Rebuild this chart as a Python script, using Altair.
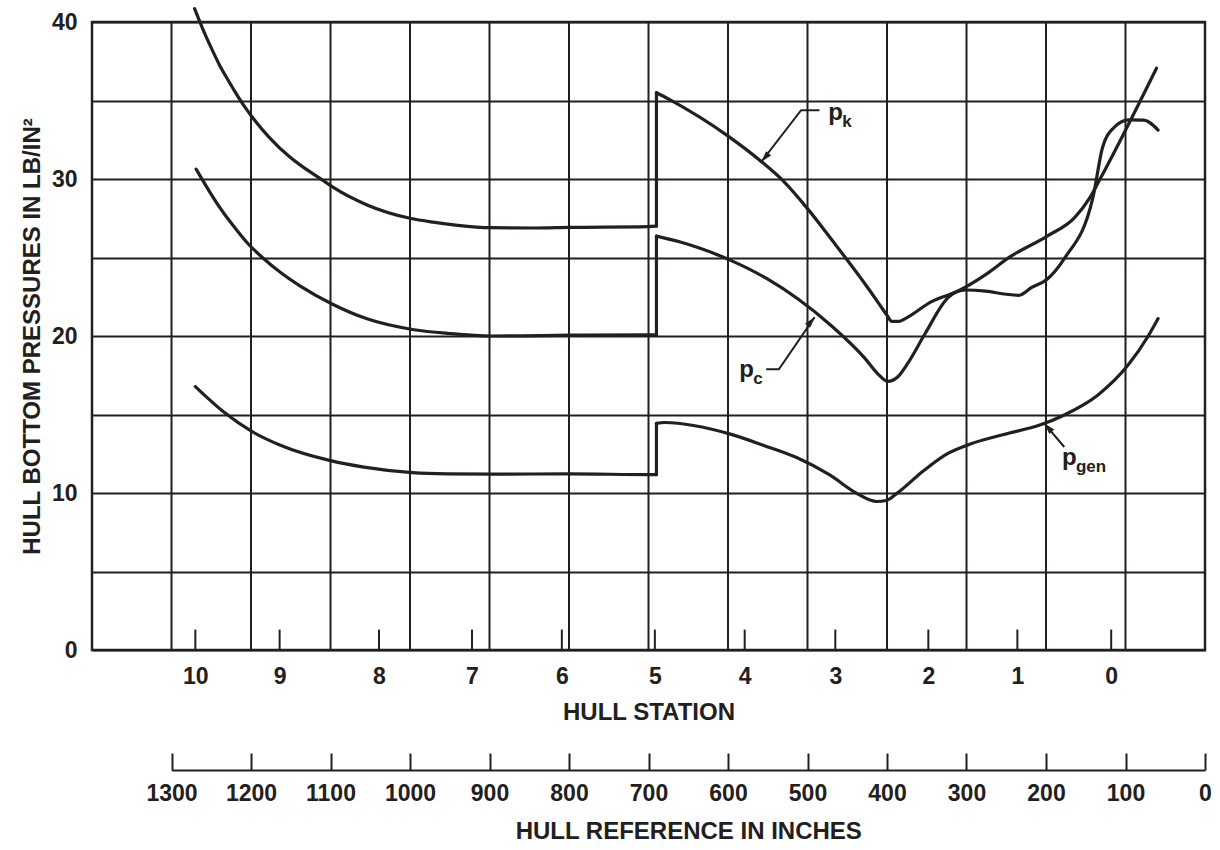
import json
import altair as alt
import pandas as pd

# ---------------- data (x = hull reference in inches, y = pressure lb/in^2) ----------------
pk_left_in = [1271, 1261, 1250, 1240, 1230, 1220, 1210, 1200, 1178, 1150, 1137, 1112, 1096, 1054, 1000, 971, 940, 899, 845, 800, 701, 690]
pk_left_p = [40.85, 39.6, 38.35, 37.3, 36.4, 35.55, 34.75, 34.05, 32.7, 31.35, 30.85, 30.0, 29.45, 28.35, 27.5, 27.25, 27.05, 26.9, 26.88, 26.92, 26.97, 27.0]
pk_right_in = [690, 675, 599, 559, 530, 499, 475, 451, 426, 410, 400, 394, 385, 377, 344, 310, 275, 246, 199, 164, 145, 132, 61]
pk_right_p = [35.5, 35.1, 32.7, 31.15, 29.85, 28.05, 26.5, 24.9, 23.2, 22.05, 21.32, 20.93, 20.93, 21.11, 22.19, 22.88, 23.94, 25.02, 26.35, 27.54, 28.8, 30.0, 37.06]

pc_left_in = [1269, 1242, 1222, 1204, 1185, 1164, 1139, 1098, 1055, 995, 951, 897, 798, 696, 690]
pc_left_p = [30.63, 28.39, 27.0, 25.89, 24.97, 24.09, 23.21, 22.04, 21.11, 20.4, 20.16, 20.0, 20.05, 20.08, 20.08]
pc_right_in = [690, 661, 636, 598, 552, 511, 470, 428, 411, 399, 386, 374, 352, 322, 301, 276, 250, 234, 218, 199, 177, 141, 129, 115, 96, 77, 59]
pc_right_p = [26.36, 26.0, 25.6, 24.85, 23.68, 22.32, 20.65, 18.59, 17.56, 17.11, 17.42, 18.25, 20.16, 22.5, 22.93, 22.86, 22.66, 22.59, 23.09, 23.6, 24.93, 28.81, 31.99, 33.25, 33.76, 33.75, 33.12]

pgen_left_in = [1270, 1233, 1200, 1163, 1100, 1058, 997, 953, 897, 799, 698, 690]
pgen_left_p = [16.78, 15.11, 13.95, 13.04, 12.06, 11.65, 11.3, 11.22, 11.2, 11.22, 11.17, 11.17]
pgen_right_in = [690, 680, 597, 555, 513, 472, 438, 413, 401, 388, 354, 325, 296, 253, 207, 177, 135, 97, 71, 59]
pgen_right_p = [14.43, 14.49, 13.75, 13.03, 12.24, 11.15, 9.98, 9.46, 9.52, 9.96, 11.42, 12.48, 13.11, 13.73, 14.34, 14.97, 16.23, 18.13, 20.03, 21.11]

# hull stations (position in inches) and their labels
station_in = [1270, 1164, 1039, 922, 809, 692, 579, 465, 348, 236, 118]
station_lbl = ["10", "9", "8", "7", "6", "5", "4", "3", "2", "1", "0"]

# hull reference axis ticks, grid
inch_ticks = [1300, 1200, 1100, 1000, 900, 800, 700, 600, 500, 400, 300, 200, 100, 0]
grid_in = [1300, 1200, 1100, 1000, 900, 800, 700, 600, 500, 400, 300, 200, 100]
y_ticks = [0, 5, 10, 15, 20, 25, 30, 35, 40]

# curve labels with leader lines
lbl_main = ["p", "p", "p"]
lbl_sub = ["k", "c", "gen"]
lbl_in = [474, 586, 180]
lbl_p = [33.73, 17.37, 11.78]
leader_pk_in = [485, 508, 558]
leader_pk_p = [34.38, 34.38, 31.1]
leader_pc_in = [552, 536, 491]
leader_pc_p = [17.88, 17.88, 21.2]
leader_pgen_in = [177, 202]
leader_pgen_p = [12.93, 14.42]
arrow_angle = [221, 40, 318]

# ---------------- build tables ----------------
def seg(name, xs, ys):
    return pd.DataFrame({"inches": xs, "p": ys, "seg": name, "idx": list(range(len(xs)))})

curves = pd.concat([
    seg("pk_a", pk_left_in, pk_left_p),
    seg("pk_j", [pk_left_in[-1], pk_right_in[0]], [pk_left_p[-1], pk_right_p[0]]),
    seg("pk_b", pk_right_in, pk_right_p),
    seg("pc_a", pc_left_in, pc_left_p),
    seg("pc_j", [pc_left_in[-1], pc_right_in[0]], [pc_left_p[-1], pc_right_p[0]]),
    seg("pc_b", pc_right_in, pc_right_p),
    seg("pg_a", pgen_left_in, pgen_left_p),
    seg("pg_j", [pgen_left_in[-1], pgen_right_in[0]], [pgen_left_p[-1], pgen_right_p[0]]),
    seg("pg_b", pgen_right_in, pgen_right_p),
], ignore_index=True)

leaders = pd.concat([
    seg("pk", leader_pk_in, leader_pk_p),
    seg("pc", leader_pc_in, leader_pc_p),
    seg("pgen", leader_pgen_in, leader_pgen_p),
], ignore_index=True)

arrows = pd.DataFrame({
    "inches": [leader_pk_in[-1], leader_pc_in[-1], leader_pgen_in[-1]],
    "p": [leader_pk_p[-1], leader_pc_p[-1], leader_pgen_p[-1]],
    "ang": arrow_angle,
})
labels = pd.DataFrame({"inches": lbl_in, "p": lbl_p, "main": lbl_main, "sub": lbl_sub})
grid_df = pd.DataFrame({"inches": grid_in, "p": [0] * len(grid_in), "p2": [40] * len(grid_in)})
stat_df = pd.DataFrame({"inches": station_in, "p": [0] * len(station_in), "p2": [1.3] * len(station_in)})

# ---------------- styling ----------------
W, H = 1113, 628
INK = "#23201c"
FONT = "Liberation Sans"
LBL = 23
TTL = 24

label_expr = "{}[indexof({}, datum.value)]".format(json.dumps(station_lbl), json.dumps(station_in))

x_scale = alt.Scale(domain=[1400, 0], nice=False, zero=False)
y_scale = alt.Scale(domain=[0, 40], nice=False)

x_axis = alt.Axis(
    orient="bottom", values=station_in, labelExpr=label_expr, grid=False, ticks=False, tickSize=0,
    domain=False, labelFont=FONT, labelFontSize=LBL, labelFontWeight="bold", labelColor=INK,
    labelPadding=15, labelAngle=0, labelFlush=False, labelOverlap=False,
    title="HULL STATION", titleFont=FONT, titleFontSize=TTL, titleFontWeight="bold", titleColor=INK,
    titleY=50, titleBaseline="top",
)
y_axis = alt.Axis(
    values=y_ticks, labelExpr="datum.value % 10 === 0 ? datum.label : ''", grid=True,
    gridColor=INK, gridWidth=2, gridOpacity=1, ticks=False, tickSize=0, domain=False,
    labelFont=FONT, labelFontSize=LBL, labelFontWeight="bold", labelColor=INK, labelPadding=15,
    title="HULL BOTTOM PRESSURES IN LB/IN²", titleFont=FONT, titleFontSize=TTL, titleFontWeight="bold",
    titleColor=INK, titleX=-60, titleY=H / 2, titleAngle=270, titleBaseline="middle", titleAlign="center",
)

X = alt.X("inches:Q", scale=x_scale, axis=x_axis)
Y = alt.Y("p:Q", scale=y_scale, axis=y_axis)

vgrid = alt.Chart(grid_df).mark_rule(color=INK, strokeWidth=2).encode(x=X, y=Y, y2="p2:Q")
sticks = alt.Chart(stat_df).mark_rule(color=INK, strokeWidth=2).encode(x=X, y=Y, y2="p2:Q")
lines = alt.Chart(curves).mark_line(color=INK, strokeWidth=3.2, interpolate="monotone",
                                    strokeCap="round", strokeJoin="round").encode(
    x=X, y=Y, detail="seg:N", order="idx:Q")
lead = alt.Chart(leaders).mark_line(color=INK, strokeWidth=2).encode(
    x=X, y=Y, detail="seg:N", order="idx:Q")
heads = alt.Chart(arrows).mark_point(shape="M0,0L0.6,2L-0.6,2Z", filled=True, size=121, color=INK,
                                     opacity=1).encode(
    x=X, y=Y, angle=alt.Angle("ang:Q", scale=None))
ptext = alt.Chart(labels).mark_text(align="left", baseline="alphabetic", font=FONT, fontSize=24,
                                    fontWeight="bold", color=INK).encode(x=X, y=Y, text="main:N")
stext = alt.Chart(labels).mark_text(align="left", baseline="alphabetic", font=FONT, fontSize=17,
                                    fontWeight="bold", color=INK, dx=14, dy=7).encode(x=X, y=Y, text="sub:N")

main = alt.layer(vgrid, sticks, lines, lead, heads, ptext, stext)

inch_df = pd.DataFrame({"ref": inch_ticks})
inch_scale = alt.Scale(domain=[1300, 0], range=[W / 14, W], nice=False, zero=False)
inch_ticks_layer = alt.Chart(inch_df).mark_point(opacity=0).encode(
    x=alt.X("ref:Q", scale=inch_scale, axis=alt.Axis(
        orient="bottom", offset=103, values=inch_ticks, domain=False, ticks=True, tickSize=17,
        tickWidth=2, tickColor=INK, grid=False, labelPadding=12, labelFont=FONT, labelFontSize=LBL,
        labelFontWeight="bold", labelColor=INK, labelFlush=False, labelOverlap=False, format="d",
        title="HULL REFERENCE IN INCHES", titleFont=FONT, titleFontSize=TTL, titleFontWeight="bold",
        titleColor=INK, titleY=66, titleBaseline="top")))
inch_line_layer = alt.Chart(inch_df).mark_point(opacity=0).encode(
    x=alt.X("ref:Q", scale=inch_scale, axis=alt.Axis(
        orient="bottom", offset=120, domain=True, domainColor=INK, domainWidth=2, ticks=False,
        labels=False, grid=False, title="")))

chart = alt.layer(main, inch_ticks_layer, inch_line_layer).resolve_scale(x="independent").properties(
    width=W, height=H,
    autosize=alt.AutoSizeParams(type="none"),
    padding={"left": 92, "top": 22, "right": 15, "bottom": 200},
    background="white",
).configure_view(stroke=INK, strokeWidth=2.5)

chart.save("out.html", embed_options={"renderer": "svg", "actions": False})
